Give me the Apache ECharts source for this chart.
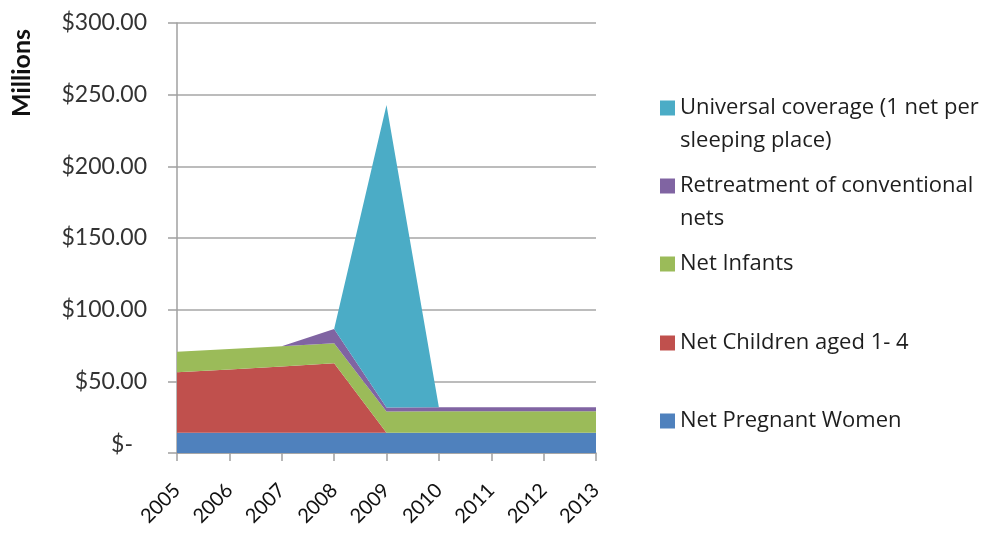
<!DOCTYPE html>
<html>
<head>
<meta charset="utf-8">
<script src="https://cdn.jsdelivr.net/npm/echarts@6/dist/echarts.min.js"></script>
<style>
  html, body { margin: 0; padding: 0; background: #fff; }
  #chart { width: 991px; height: 536px; }
</style>
</head>
<body>
<div id="chart"></div>
<script>
// Years on the category axis
var years = ['2005', '2006', '2007', '2008', '2009', '2010', '2011', '2012', '2013'];

// Spending per component, in millions of dollars (stacked bottom to top)
var pregnantWomen = [14.2, 14.2, 14.2, 14.2, 14.2, 14.2, 14.2, 14.2, 14.2];
var childrenAged1to4 = [42.1, 44.0, 46.2, 48.4, 0, 0, 0, 0, 0];
var infants = [14.4, 14.3, 14.1, 13.9, 14.8, 15.0, 15.0, 15.0, 15.0];
var retreatment = [0, 0, 0, 10.0, 2.7, 2.7, 2.7, 2.7, 2.7];
var universalCoverage = [0, 0, 0, 0, 211.1, 0, 0, 0, 0];

// Value axis ticks
var yMin = 0, yMax = 300, yStep = 50;

var names = {
  universal: 'Universal coverage (1 net per sleeping place)',
  retreat: 'Retreatment of conventional nets',
  infants: 'Net Infants',
  children: 'Net Children aged 1- 4',
  pregnant: 'Net Pregnant Women'
};

var colors = {
  universal: '#4BACC6',
  retreat: '#8064A2',
  infants: '#9BBB59',
  children: '#C0504D',
  pregnant: '#4F81BD'
};

var axisFont = 'Lato, "Liberation Sans", sans-serif';
var legendFont = '"Open Sans", "Liberation Sans", sans-serif';

function areaSeries(name, data, color) {
  return {
    name: name,
    type: 'line',
    stack: 'total',
    data: data,
    symbol: 'none',
    color: color,
    lineStyle: { width: 0 },
    areaStyle: { color: color, opacity: 1 },
    emphasis: { disabled: true }
  };
}

// One legend block per series so each row can sit at its own height
function legendFor(name, centerY, wrapped) {
  var lh = wrapped ? 33 : 24;
  return {
    data: [name],
    left: 660,
    top: wrapped ? centerY - lh * 1.5 : centerY - lh / 2,
    padding: 0,
    orient: 'vertical',
    icon: 'rect',
    itemWidth: 15,
    itemHeight: 15,
    itemGap: 0,
    selectedMode: false,
    textStyle: {
      fontFamily: legendFont,
      fontSize: 22,
      color: '#1e1e1e',
      lineHeight: lh
    },
    formatter: function (n) {
      if (n === names.universal) return '\nUniversal coverage (1 net per\nsleeping place)';
      if (n === names.retreat) return '\nRetreatment of conventional\nnets';
      return n;
    }
  };
}

var chart = echarts.init(document.getElementById('chart'), null, { renderer: 'canvas' });

chart.setOption({
  animation: false,
  backgroundColor: '#ffffff',
  grid: { left: 177, right: 395, top: 23, bottom: 83, containLabel: false },
  legend: [
    legendFor(names.universal, 108, true),
    legendFor(names.retreat, 186, true),
    legendFor(names.infants, 264, false),
    legendFor(names.children, 343, false),
    legendFor(names.pregnant, 421, false)
  ],
  xAxis: {
    type: 'category',
    data: years,
    boundaryGap: false,
    axisLine: { lineStyle: { color: '#a0a0a0', width: 1.5 } },
    axisTick: { show: true, length: 8, lineStyle: { color: '#a0a0a0', width: 1.5 } },
    axisLabel: {
      rotate: 45,
      margin: 34,
      fontFamily: axisFont,
      fontSize: 20,
      color: '#111'
    },
    splitLine: { show: false }
  },
  yAxis: {
    type: 'value',
    min: yMin,
    max: yMax,
    interval: yStep,
    axisLine: { show: true, lineStyle: { color: '#a0a0a0', width: 1.5 } },
    axisTick: { show: true, length: 9, lineStyle: { color: '#a0a0a0', width: 1.5 } },
    axisLabel: {
      margin: 30,
      fontFamily: axisFont,
      fontSize: 23,
      color: '#333',
      formatter: function (v) {
        if (v === 0) return '{z|$-}';
        return '$' + v.toFixed(2);
      },
      rich: {
        z: { fontFamily: axisFont, fontSize: 23, color: '#333', padding: [0, 14, 16, 0] }
      }
    },
    splitLine: { show: true, lineStyle: { color: '#a6a6a6', width: 1.5 } }
  },
  graphic: [
    {
      type: 'text',
      x: 22,
      y: 73,
      rotation: Math.PI / 2,
      style: {
        text: 'Millions',
        fontFamily: axisFont,
        fontSize: 25,
        fontWeight: 'bold',
        fill: '#111',
        align: 'center',
        verticalAlign: 'middle'
      }
    }
  ],
  series: [
    areaSeries(names.pregnant, pregnantWomen, colors.pregnant),
    areaSeries(names.children, childrenAged1to4, colors.children),
    areaSeries(names.infants, infants, colors.infants),
    areaSeries(names.retreat, retreatment, colors.retreat),
    areaSeries(names.universal, universalCoverage, colors.universal)
  ]
});
</script>
</body>
</html>
